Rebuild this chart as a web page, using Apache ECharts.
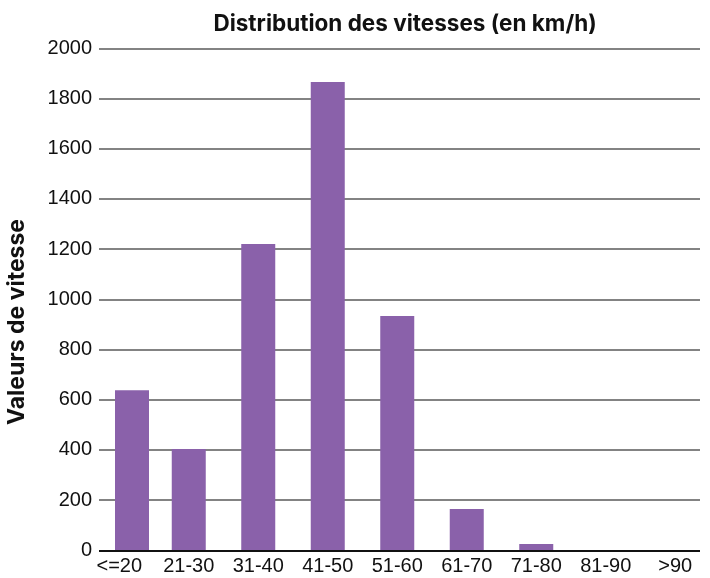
<!DOCTYPE html>
<html><head><meta charset="utf-8">
<script src="https://cdn.jsdelivr.net/npm/echarts@6/dist/echarts.min.js"></script>
<style>html,body{margin:0;padding:0;background:#fff}#c{width:710px;height:578px}</style>
</head><body><div id="c"></div>
<script>
const categories = ['<=20','21-30','31-40','41-50','51-60','61-70','71-80','81-90','>90'];
const values = [638, 404, 1220, 1866, 933, 165, 25, 0, 0];
const yTicks = {min: 0, max: 2000, interval: 200};

// the first bar sits slightly right of its label in the reference
const firstBar = values.map((v, i) => i === 0 ? v : '-');
const otherBars = values.map((v, i) => i === 0 ? '-' : v);

const chart = echarts.init(document.getElementById('c'));
const hiddenX = g => ({type: 'category', gridIndex: g, data: categories, show: false});
const hiddenY = g => ({type: 'value', gridIndex: g, min: yTicks.min, max: yTicks.max, interval: yTicks.interval, show: false});
chart.setOption({
  animation: false,
  title: {
    text: 'Distribution des vitesses (en km/h)',
    left: 400, top: 8, textAlign: 'center',
    textStyle: {fontFamily: 'Inter', fontWeight: 'bold', fontSize: 22.5, color: '#111'}
  },
  graphic: [{
    type: 'text', x: 17, y: 322, rotation: Math.PI / 2,
    style: {text: 'Valeurs de vitesse', font: 'bold 23px Inter', fill: '#111',
            textAlign: 'center', textVerticalAlign: 'middle'}
  }],
  grid: [
    {left: 99, right: 10, top: 48.3, bottom: 27.7},
    {left: 84.5, right: -4.5, top: 48.3, bottom: 27.7},
    {left: 98, right: -18, top: 48.3, bottom: 27.7}
  ],
  xAxis: [
    hiddenX(0),
    {type: 'category', gridIndex: 1, data: categories,
     axisLine: {show: false}, axisTick: {show: false},
     axisLabel: {fontFamily: 'Liberation Sans', fontSize: 20, color: '#111', margin: 6, interval: 0}},
    hiddenX(2)
  ],
  yAxis: [
    {type: 'value', gridIndex: 0, min: yTicks.min, max: yTicks.max, interval: yTicks.interval,
     axisLine: {show: false}, axisTick: {show: false},
     axisLabel: {fontFamily: 'Liberation Sans', fontSize: 20, color: '#111', margin: 7,
                 formatter: v => String(v)},
     splitLine: {show: true, lineStyle: {color: '#5a5a5a', width: 1.5}}},
    hiddenY(1),
    hiddenY(2)
  ],
  series: [
    {type: 'line', xAxisIndex: 0, yAxisIndex: 0, data: [], silent: true,
     markLine: {symbol: 'none', silent: true, label: {show: false},
       lineStyle: {color: '#111', width: 2, type: 'solid'}, data: [{yAxis: 0}]}},
    {type: 'bar', xAxisIndex: 1, yAxisIndex: 1, data: otherBars, barWidth: 34,
     itemStyle: {color: '#8a61aa'}, z: 3},
    {type: 'bar', xAxisIndex: 2, yAxisIndex: 2, data: firstBar, barWidth: 34,
     itemStyle: {color: '#8a61aa'}, z: 3}
  ]
});
</script></body></html>
